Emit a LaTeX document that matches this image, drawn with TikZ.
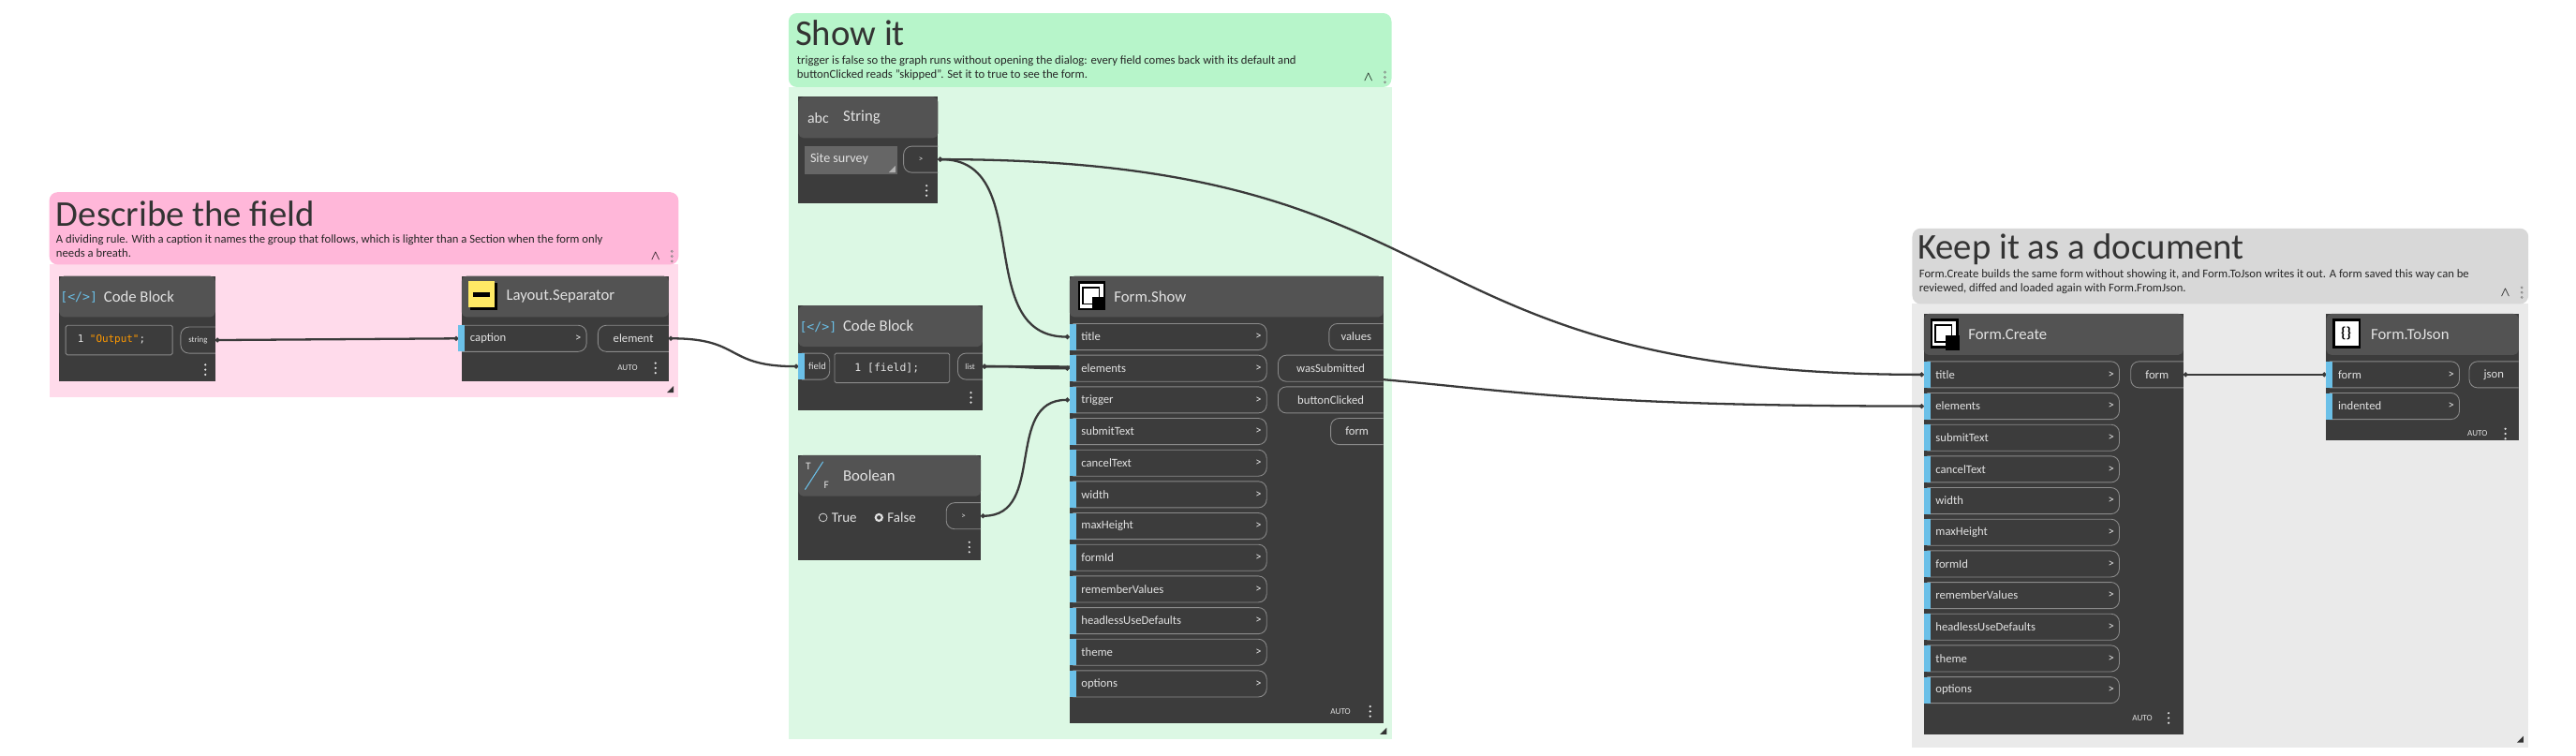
\documentclass[tikz,border=0pt]{standalone}
\usepackage{fontspec}
\setmainfont{Carlito}
\newfontfamily\codefont{DejaVu Sans Mono}
\usetikzlibrary{arrows.meta}
\pgfdeclarelayer{back}
\pgfdeclarelayer{wires}
\pgfsetlayers{back,wires,main}
\definecolor{nodebody}{HTML}{3C3C3C}
\definecolor{nodehead}{HTML}{535353}
\definecolor{portline}{HTML}{8A8A8A}
\definecolor{labelgray}{HTML}{E2E2E2}
\definecolor{portblue}{HTML}{6BC0E8}
\definecolor{wiregray}{HTML}{3A3A3A}
\definecolor{pinkhead}{HTML}{FFB7D9}
\definecolor{pinkbody}{HTML}{FFDBEB}
\definecolor{greenhead}{HTML}{B7F5CA}
\definecolor{greenbody}{HTML}{DCF8E4}
\definecolor{grayhead}{HTML}{D8D8D8}
\definecolor{graybody}{HTML}{EAEAEA}
\tikzset{
  portlbl/.style={text=labelgray, font=\fontsize{7.2}{7.5}\selectfont, inner sep=0pt},
  titlelbl/.style={text=labelgray, font=\fontsize{9.5}{10}\selectfont, inner sep=0pt, anchor=west},
  grouptitle/.style={text=black!80, font=\fontsize{22}{22}\selectfont, inner sep=0pt, anchor=west},
  groupdesc/.style={text=black!85, font=\fontsize{7.2}{8.3}\selectfont, inner sep=0pt, anchor=north west, align=left},
  auto/.style={text=labelgray, font=\fontsize{5.2}{5.5}\selectfont, inner sep=0pt},
  wire/.style={draw=wiregray, line width=1.3pt, {Circle[length=2.6pt]}-{Circle[length=2.6pt]}},
}
% name, x, y, width, label
\newcommand\inport[5]{%
  \draw[portline, line width=0.5pt, rounded corners=5] (#2,#3-8) -- (#2+#4,#3-8) -- (#2+#4,#3+8) -- (#2,#3+8);
  \fill[portblue] (#2-2,#3-8) rectangle (#2+2,#3+8);
  \node[portlbl, anchor=west] at (#2+5,#3) {#5};
  \node[portlbl] at (#2+#4-5,#3) {>};
  \coordinate (#1) at (#2-2,#3);}
% name, right x, y, width, label
\newcommand\outport[5]{%
  \draw[portline, line width=0.5pt, rounded corners=5] (#2,#3-8) -- (#2-#4,#3-8) -- (#2-#4,#3+8) -- (#2,#3+8);
  \node[portlbl] at (#2-#4/2,#3) {#5};
  \coordinate (#1) at (#2,#3);}
% name, x, y, width, height, title
\newcommand\dnode[6]{%
  \fill[nodebody] (#2,#3) rectangle (#2+#4,#3+#5);
  \fill[nodehead, rounded corners=3] (#2,#3+25) -- (#2,#3) -- (#2+#4,#3) -- (#2+#4,#3+25) -- cycle;
  \node[titlelbl] (#1) at (#2+27,#3+12.5) {#6};}
\newcommand\menudots[2]{\foreach \d in {-3,0,3} \fill[labelgray] (#1,#2+\d) circle (0.7);}
\begin{document}
\begin{tikzpicture}[x=0.035cm, y=-0.035cm]
\useasboundingbox (0,0) rectangle (1568,460);

% groups
\begin{pgfonlayer}{back}
\fill[pinkbody] (30,161) rectangle (413,242);
\fill[pinkhead, rounded corners=5] (30,161) -- (30,117) -- (413,117) -- (413,161) -- cycle;
\fill[greenbody] (480,53) rectangle (847,450);
\fill[greenhead, rounded corners=5] (480,53) -- (480,8) -- (847,8) -- (847,53) -- cycle;
\fill[graybody] (1164,185) rectangle (1539,455);
\fill[grayhead, rounded corners=5] (1164,185) -- (1164,139) -- (1539,139) -- (1539,185) -- cycle;
\end{pgfonlayer}
\node[grouptitle] (g1) at (34,130) {Describe the field};
\node[groupdesc] at (34,143) {A dividing rule. With a caption it names the group that follows, which is lighter than a Section when the form only\\needs a breath.};
\node[grouptitle] (g2) at (484,20) {Show it};
\node[groupdesc] at (485,34) {trigger is false so the graph runs without opening the dialog: every field comes back with its default and\\buttonClicked reads "skipped". Set it to true to see the form.};
\node[grouptitle] (g3) at (1167,152) {Keep it as a document};
\node[groupdesc] at (1168,164) {Form.Create builds the same form without showing it, and Form.ToJson writes it out. A form saved this way can be\\reviewed, diffed and loaded again with Form.FromJson.};
\foreach \gx/\gy in {399/156, 833/47, 1525/178} {
  \node[font=\footnotesize, inner sep=0pt] at (\gx,\gy) {$\wedge$};
  \foreach \d in {-3,0,3} \draw[black!50, line width=0.3pt] (\gx+10,\gy+\d) circle (0.6);
}
\foreach \gx/\gy in {410/239, 844/447, 1536/452} \fill[black!80] (\gx,\gy) -- (\gx-4,\gy) -- (\gx,\gy-4) -- cycle;

% Code Block "Output"
\dnode{cb1}{36}{168}{95}{64}{Code Block}
\node[text=portblue, font=\fontsize{7.5}{7.5}\selectfont\codefont, inner sep=0pt] at (48,181) {[</>]};
\draw[portline, line width=0.5pt, rounded corners=1] (40,198) rectangle (105,216);
\node[font=\fontsize{6.2}{6.5}\selectfont\codefont, inner sep=0pt, anchor=west] at (47,207) {\textcolor{labelgray}{1} \textcolor{orange!80!yellow}{"Output"}\textcolor{labelgray}{;}};
\outport{cb1-out}{131}{207}{21}{\fontsize{5}{5}\selectfont string}
\menudots{125}{225}

% Layout.Separator
\dnode{sep}{281}{168}{126}{64}{Layout.Separator}
\fill[black] (286,172) rectangle (303,189);
\fill[yellow!80!orange!60] (285,171) rectangle (301,187);
\fill[black] (288,178) rectangle (298,180.5);
\inport{sep-caption}{281}{206}{76}{caption}
\outport{sep-out}{407}{206}{43}{element}
\node[auto] at (382,224) {AUTO};
\menudots{399}{224}

% String
\dnode{str}{486}{59}{85}{65}{String}
\node[text=labelgray, font=\fontsize{9}{9}\selectfont, inner sep=0pt] at (498,72) {abc};
\fill[black!60] (490,89) rectangle (546,106);
\node[portlbl, font=\fontsize{8}{8}\selectfont, anchor=west] at (493,97) {Site survey};
\fill[black!30] (545,105) -- (545,101) -- (541,105) -- cycle;
\outport{str-out}{571}{97}{21}{\fontsize{5}{5}\selectfont >}
\menudots{564}{116}

% Code Block "[field];"
\dnode{cb2}{486}{186}{112}{64}{Code Block}
\node[text=portblue, font=\fontsize{7.5}{7.5}\selectfont\codefont, inner sep=0pt] at (498,199) {[</>]};
\draw[portline, line width=0.5pt, rounded corners=5] (488,215) -- (505,215) -- (505,231) -- (488,231);
\fill[portblue] (486,215) rectangle (490,231);
\node[portlbl, font=\fontsize{6}{6}\selectfont] at (497.5,223) {field};
\coordinate (cb2-field) at (486,223);
\draw[portline, line width=0.5pt, rounded corners=1] (508,215) rectangle (578,233);
\node[font=\fontsize{6.5}{6.5}\selectfont\codefont, text=labelgray, inner sep=0pt, anchor=west] at (520,224) {1 [field];};
\outport{cb2-out}{598}{223}{15}{\fontsize{5}{5}\selectfont list}
\menudots{591}{242}

% Boolean
\dnode{bool}{486}{277}{111}{64}{Boolean}
\node[text=labelgray, font=\fontsize{6.5}{6.5}\selectfont, inner sep=0pt] at (492,284) {T};
\node[text=labelgray, font=\fontsize{6.5}{6.5}\selectfont, inner sep=0pt] at (503,295) {F};
\draw[portblue, line width=0.6pt] (490,298) -- (501,281);
\draw[labelgray, line width=0.4pt] (501,315) circle (2.5);
\node[portlbl, font=\fontsize{8.5}{8.5}\selectfont, anchor=west] at (506,315) {True};
\draw[labelgray, line width=1.2pt] (535,315) circle (2);
\node[portlbl, font=\fontsize{8.5}{8.5}\selectfont, anchor=west] at (540,315) {False};
\outport{bool-out}{597}{314}{21}{\fontsize{5}{5}\selectfont >}
\menudots{590}{333}

% Form.Show
\dnode{show}{651}{168}{191}{272}{Form.Show}
\fill[black] (656,171) rectangle (673,189);
\fill[white] (657.5,172.5) rectangle (671.5,187.5);
\draw[black, line width=0.9pt] (659,175) rectangle (669,185);
\fill[black] (665,181) rectangle (673,189);
\foreach \lbl [count=\i from 0] in {title, elements, trigger, submitText, cancelText, width, maxHeight, formId, rememberValues, headlessUseDefaults, theme, options}
  \inport{show-\lbl}{653}{205+19.2*\i}{118}{\lbl};
\outport{show-values}{842}{205}{33}{values}
\outport{show-submitted}{842}{224.2}{64}{wasSubmitted}
\outport{show-clicked}{842}{243.4}{64}{buttonClicked}
\outport{show-form}{842}{262.6}{32}{form}
\node[auto] at (816,433) {AUTO};
\menudots{834}{433}

% Form.Create
\dnode{create}{1171}{191}{158}{256}{Form.Create}
\fill[black] (1175,194) rectangle (1192,212);
\fill[white] (1176.5,195.5) rectangle (1190.5,210.5);
\draw[black, line width=0.9pt] (1178,198) rectangle (1188,208);
\fill[black] (1184,204) rectangle (1193,213);
\foreach \lbl [count=\i from 0] in {title, elements, submitText, cancelText, width, maxHeight, formId, rememberValues, headlessUseDefaults, theme, options}
  \inport{create-\lbl}{1173}{228+19.2*\i}{117}{\lbl};
\outport{create-form}{1329}{228}{32}{form}
\node[auto] at (1304,437) {AUTO};
\menudots{1320}{437}

% Form.ToJson
\dnode{json}{1416}{191}{117}{77}{Form.ToJson}
\fill[black] (1420,194) rectangle (1437,212);
\fill[white] (1421.5,195.5) rectangle (1435.5,210.5);
\node[font=\fontsize{9}{9}\selectfont\bfseries, inner sep=0pt] at (1428,203) {\{\}};
\inport{json-form}{1418}{228}{79}{form}
\inport{json-indented}{1418}{247.2}{79}{indented}
\outport{json-out}{1533}{228}{30}{json}
\node[auto] at (1508,264) {AUTO};
\menudots{1525}{264}

% wires
\begin{pgfonlayer}{wires}
\draw[wire] (cb1-out) -- (sep-caption);
\draw[wire] (sep-out) .. controls +(45,0) and +(-45,0) .. (cb2-field);
\draw[wire] (str-out) .. controls +(60,0) and +(-60,0) .. (show-title);
\draw[wire] (str-out) .. controls +(330,0) and +(-330,0) .. (create-title);
\draw[wire] (cb2-out) .. controls +(30,0) and +(-30,0) .. (show-elements);
\draw[wire] (bool-out) .. controls +(40,0) and +(-40,0) .. (show-trigger);
\draw[wire] (cb2-out) .. controls +(330,0) and +(-330,0) .. (create-elements);
\draw[wire] (create-form) -- (json-form);
\end{pgfonlayer}
\end{tikzpicture}
\end{document}
